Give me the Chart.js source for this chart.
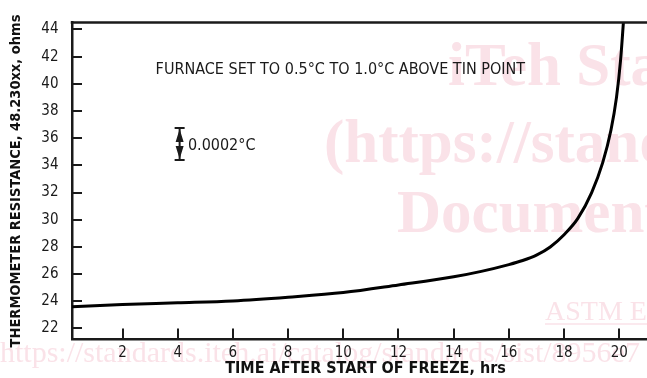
<!DOCTYPE html>
<html>
<head>
<meta charset="utf-8">
<script src="https://cdn.jsdelivr.net/npm/chart.js@4.4.1/dist/chart.umd.min.js"></script>
<style>
  html, body { margin: 0; padding: 0; background: #fff; overflow: hidden; }
  #wrap { width: 647px; height: 378px; overflow: hidden; }
  canvas { display: block; }
</style>
</head>
<body>
<div id="wrap"><canvas id="chart" width="659" height="378"></canvas></div>
<script>
// freeze curve
const timeHrs    = [0.17, 2, 4, 6, 8, 10, 12, 14, 15, 16, 16.5, 17, 17.5, 18, 18.5, 19, 19.4, 19.7, 19.9, 20.05, 20.15];
const resistance = [23.6, 23.76, 23.89, 24.03, 24.3, 24.64, 25.2, 25.8, 26.2, 26.7, 27.0, 27.4, 28.0, 28.9, 30.1, 32.0, 34.2, 36.6, 39.0, 41.8, 44.5];

const xTicks = [2, 4, 6, 8, 10, 12, 14, 16, 18, 20];
const yTicks = [22, 24, 26, 28, 30, 32, 34, 36, 38, 40, 42, 44];

// scale bracket for 0.0002 °C
const bracketX = 4.07;
const bracketLow = 34.4;
const bracketHigh = 36.75;

const fontFam = '"DejaVu Sans Condensed", "DejaVu Sans", sans-serif';
const ink = '#1a1a1a';

const decorations = {
  id: 'decorations',
  beforeDraw(chart) {
    const ctx = chart.ctx;
    ctx.save();
    ctx.fillStyle = '#fff';
    ctx.fillRect(0, 0, chart.width, chart.height);
    // pale watermark of the source page
    ctx.fillStyle = '#fae2e8';
    ctx.strokeStyle = '#fae2e8';
    ctx.textBaseline = 'alphabetic';
    ctx.font = 'bold 61px "Liberation Serif", serif';
    ctx.fillText('iTeh Standards', 448, 85);
    ctx.fillText('(https://standards.iteh.ai)', 324, 162);
    ctx.fillText('Document Preview', 397, 232);
    ctx.font = '28px "Liberation Serif", serif';
    ctx.fillText('ASTM E', 545, 320);
    ctx.lineWidth = 1.5;
    ctx.beginPath(); ctx.moveTo(545, 324); ctx.lineTo(660, 324); ctx.stroke();
    ctx.font = '30px "Liberation Serif", serif';
    ctx.fillText('https://standards.iteh.ai/catalog/standards/sist/8956e7', 0, 362);
    ctx.restore();
  },
  afterDraw(chart) {
    const {ctx, chartArea: a, scales: {x, y}} = chart;
    ctx.save();
    ctx.strokeStyle = ink;
    // inward tick marks
    ctx.lineWidth = 2;
    ctx.beginPath();
    xTicks.forEach(v => {
      const px = Math.round(x.getPixelForValue(v));
      ctx.moveTo(px, a.bottom); ctx.lineTo(px, a.bottom - 11);
    });
    yTicks.forEach(v => {
      const py = Math.round(y.getPixelForValue(v));
      ctx.moveTo(a.left, py); ctx.lineTo(a.left + 10, py);
    });
    ctx.stroke();
    // top frame
    ctx.lineWidth = 2.5;
    ctx.beginPath(); ctx.moveTo(a.left - 1.25, a.top); ctx.lineTo(a.right, a.top); ctx.stroke();

    // notes
    ctx.fillStyle = ink;
    ctx.font = '16px ' + fontFam;
    ctx.textBaseline = 'middle';
    ctx.textAlign = 'left';
    ctx.fillText('FURNACE SET TO 0.5\u00B0C TO 1.0\u00B0C ABOVE TIN POINT', x.getPixelForValue(3.2), y.getPixelForValue(41.0));
    ctx.fillText('0.0002\u00B0C', x.getPixelForValue(4.37), y.getPixelForValue(35.4));

    // bracket with arrowheads
    const bx = x.getPixelForValue(bracketX);
    const top = y.getPixelForValue(bracketHigh);
    const bot = y.getPixelForValue(bracketLow);
    ctx.lineWidth = 2;
    ctx.beginPath();
    ctx.moveTo(bx - 5, top); ctx.lineTo(bx + 5, top);
    ctx.moveTo(bx - 5, bot); ctx.lineTo(bx + 5, bot);
    ctx.moveTo(bx, top); ctx.lineTo(bx, bot);
    ctx.stroke();
    ctx.beginPath();
    ctx.moveTo(bx, top + 1); ctx.lineTo(bx + 4, top + 14); ctx.lineTo(bx - 4, top + 14); ctx.closePath();
    ctx.moveTo(bx, bot - 1); ctx.lineTo(bx + 4, bot - 14); ctx.lineTo(bx - 4, bot - 14); ctx.closePath();
    ctx.fill();
    ctx.restore();
  }
};

new Chart(document.getElementById('chart'), {
  type: 'line',
  data: {
    datasets: [{
      data: timeHrs.map((t, i) => ({x: t, y: resistance[i]})),
      borderColor: '#000',
      borderWidth: 3,
      pointRadius: 0,
      fill: false,
      cubicInterpolationMode: 'monotone'
    }]
  },
  options: {
    responsive: false,
    animation: false,
    events: [],
    layout: { padding: { top: 18, right: 0, bottom: 0, left: 0 } },
    plugins: { legend: { display: false }, tooltip: { enabled: false } },
    scales: {
      x: {
        type: 'linear',
        min: 0.17,
        max: 21.44,
        afterFit(scale) { scale.height = 38.5; },
        afterBuildTicks(scale) { scale.ticks = xTicks.map(v => ({value: v})); },
        grid: { display: false, drawTicks: false },
        border: { display: true, color: ink, width: 2.5 },
        ticks: { padding: 5, color: ink, font: { family: fontFam, size: 15 } },
        title: {
          display: true,
          text: 'TIME AFTER START OF FREEZE, hrs',
          color: '#111',
          font: { family: fontFam, size: 16, weight: 'bold' },
          padding: { top: 0, bottom: 0 }
        }
      },
      y: {
        type: 'linear',
        min: 21.19,
        max: 44.51,
        afterFit(scale) { scale.width = 72; },
        afterBuildTicks(scale) { scale.ticks = yTicks.map(v => ({value: v})); },
        grid: { display: false, drawTicks: false },
        border: { display: true, color: ink, width: 2.5 },
        ticks: { padding: 13.5, color: ink, font: { family: fontFam, size: 15 } },
        title: {
          display: true,
          text: 'THERMOMETER RESISTANCE, 48.230xx, ohms',
          color: '#111',
          font: { family: fontFam, size: 14.5, weight: 'bold' },
          padding: { top: 8, bottom: 0 }
        }
      }
    }
  },
  plugins: [decorations]
});
</script>
</body>
</html>
